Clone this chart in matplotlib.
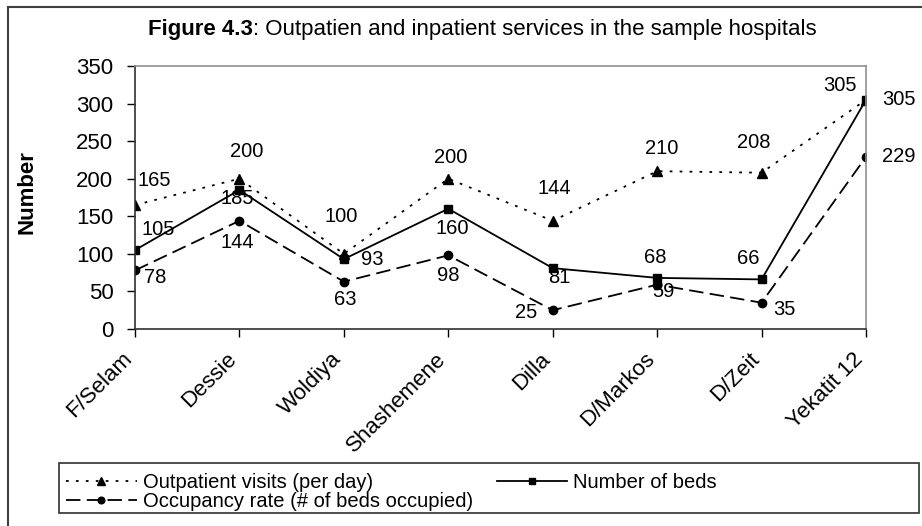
import matplotlib.pyplot as plt
from matplotlib.lines import Line2D
from matplotlib.patches import Rectangle
from matplotlib.transforms import ScaledTranslation

plt.rcParams['font.family'] = ['Liberation Sans', 'DejaVu Sans']

hospitals = ['F/Selam', 'Dessie', 'Woldiya', 'Shashemene', 'Dilla',
             'D/Markos', 'D/Zeit', 'Yekatit 12']
outpatient = [165, 200, 100, 200, 144, 210, 208, 305]
beds = [105, 185, 93, 160, 81, 68, 66, 305]
occupancy = [78, 144, 63, 98, 25, 59, 35, 229]

# label offsets in pixels (dx, dy), positive dy = up
out_off = [(19, 25), (7, 27), (-3, 37), (2, 21), (2, 32), (5, 23), (-8, 30), (33, 0)]
beds_off = [(23, 21), (-2, -9), (28, 0), (4, -20), (7, -9), (-2, 20), (-13, 21), (-26, 14)]
occ_off = [(20, -7), (-2, -22), (1, -18), (0, -20), (-27, -2), (6, -7), (23, -7), (33, 0)]

W, H = 922, 526
fig = plt.figure(figsize=(W / 100, H / 100), dpi=100)
ax = fig.add_axes([135 / W, 1 - 329 / H, (866 - 135) / W, (329 - 66) / H])

x = list(range(len(hospitals)))
fs = 16
lfs = 14.5

l1, = ax.plot(x, outpatient, color='black', lw=1.3, linestyle=(0, (1.5, 4)),
              marker='^', markersize=7, label='Outpatient visits (per day)')
l2, = ax.plot(x, beds, color='black', lw=1.3, linestyle='-',
              marker='s', markersize=6, label='Number of beds')
l3, = ax.plot(x, occupancy, color='black', lw=1.3, linestyle=(0, (8, 3.5)),
              marker='o', markersize=6, label='Occupancy rate (# of beds occupied)')

for vals, offs in [(outpatient, out_off), (beds, beds_off), (occupancy, occ_off)]:
    for i, v in enumerate(vals):
        ax.annotate(str(v), (i, v), xytext=offs[i], textcoords='offset pixels',
                    ha='center', va='center', fontsize=lfs)

ax.set_xlim(0, 7)
ax.set_ylim(0, 350)
ax.set_yticks(range(0, 351, 50))
ax.set_xticks(x)
ax.set_xticklabels(hospitals, rotation=45, ha='right', va='top',
                   rotation_mode='anchor', fontsize=fs)
ax.tick_params(axis='y', labelsize=fs, length=5.5, width=1, direction='out', pad=10)
ax.tick_params(axis='x', length=5.5, width=1, direction='out', pad=8.5)
shift = ScaledTranslation(-13 / 100, 0, fig.dpi_scale_trans)
for lab in ax.get_xticklabels():
    lab.set_transform(lab.get_transform() + shift)
ax.spines['top'].set_color('#909090')
ax.spines['right'].set_color('#909090')
ax.spines['left'].set_color('#303030')
ax.spines['bottom'].set_color('#303030')
for s in ax.spines.values():
    s.set_linewidth(1.2)

fig.text(27 / W, 1 - 192 / H, 'Number', rotation=90, ha='center', va='center',
         fontsize=fs, fontweight='bold')

t = fig.text(148 / W, 1 - 30 / H, 'Figure 4.3', ha='left', va='center',
             fontsize=fs, fontweight='bold')
ax.annotate(': Outpatien and inpatient services in the sample hospitals',
            xy=(1, 0.5), xycoords=t, ha='left', va='center', fontsize=fs,
            annotation_clip=False)

# outer frame
fig.add_artist(Line2D([8 / W, 8 / W], [0, 1 - 7 / H], color='#404040', lw=1.5))
fig.add_artist(Line2D([8 / W, 1], [1 - 7 / H, 1 - 7 / H], color='#404040', lw=1.5))

# legend box
fig.add_artist(Rectangle((59 / W, 1 - 513 / H), (919 - 59) / W, 50 / H,
                         transform=fig.transFigure, fill=False,
                         edgecolor='#303030', lw=1.2))
fig.legend([l1, l3, l2], [l1.get_label(), l3.get_label(), l2.get_label()],
           ncol=2, loc='upper left', bbox_to_anchor=(54 / W, 1 - 461 / H),
           frameon=False, fontsize=lfs, handlelength=3.5, handletextpad=0.3,
           columnspacing=1.2, labelspacing=0.0, borderpad=0.1,
           markerscale=0.8)

fig.savefig('out.png', dpi=100)
